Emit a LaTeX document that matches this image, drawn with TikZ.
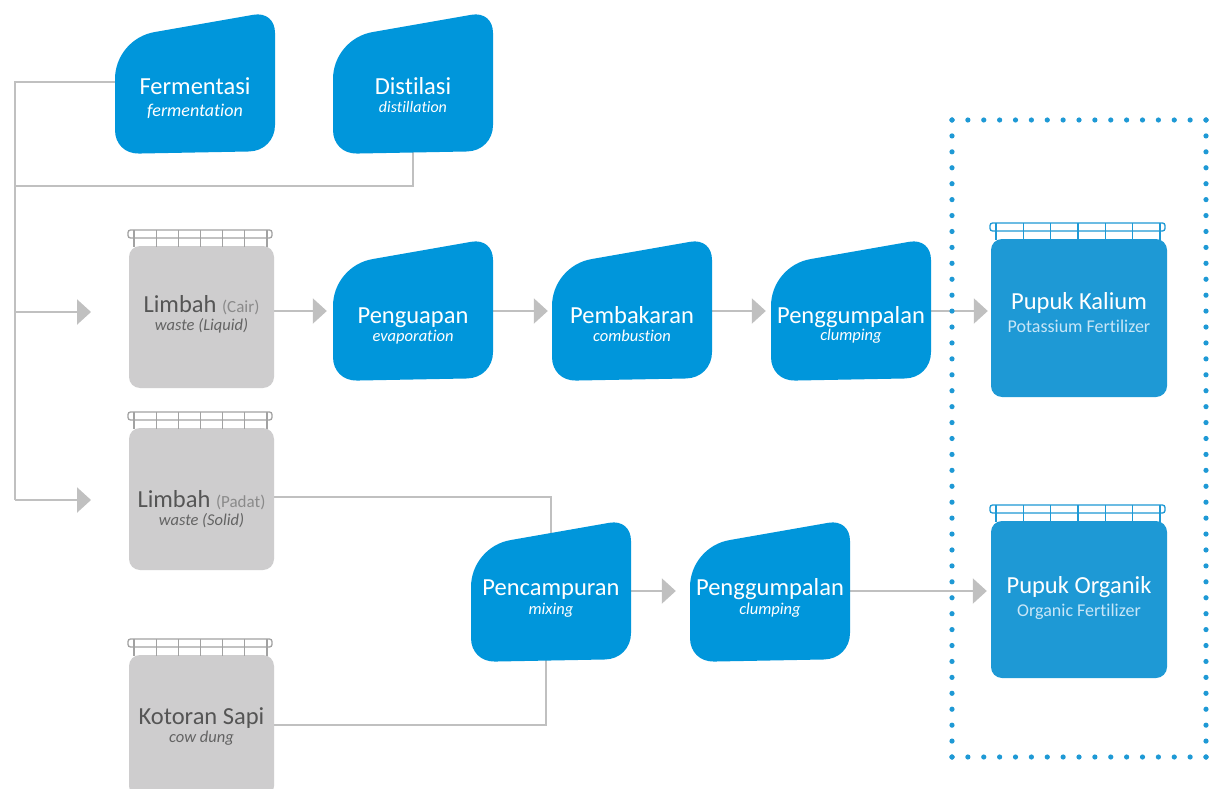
\documentclass[tikz,border=0pt]{standalone}
\usepackage{fontspec}
\setmainfont{Carlito}[Ligatures={NoCommon}]
\usetikzlibrary{arrows.meta,calc}
\definecolor{pblue}{HTML}{0096DB}
\definecolor{tblue}{HTML}{1E99D5}
\definecolor{tgray}{HTML}{CECDCE}
\definecolor{rgray}{HTML}{A2A2A2}
\definecolor{lgray}{HTML}{C0C0C0}
\definecolor{dgray}{HTML}{555555}
\definecolor{mgray}{HTML}{8A8A8A}
\definecolor{sgray}{HTML}{636363}
\definecolor{lblue}{HTML}{C8E6F7}
\pgfdeclarelayer{bg}\pgfsetlayers{bg,main}
\tikzset{
  conn/.style={draw=lgray, line width=2.2pt},
  arr/.style={conn, -{Triangle[length=14pt,width=25pt]}},
  dotline/.style={tblue, line width=5.2pt, line cap=round},
  ttl/.style={anchor=base, inner sep=0pt, font=\fontsize{24.5}{26}\selectfont},
  sub/.style={anchor=base, inner sep=0pt, font=\fontsize{16.5}{18}\selectfont\itshape},
}
\newcommand\procshape[8]{%
  \node[inner sep=0pt, minimum width=160pt, minimum height=140pt] (#1) at (#2+80,#3+71) {};
  \coordinate (#1BL) at (#2,#3+143);
  \coordinate (#1TL) at (#2,#3+28);
  \coordinate (#1TR) at (#2+160,#3);
  \coordinate (#1BR) at (#2+160,#3+140);
  \fill[pblue] ($(#1BL)!24pt!(#1BR)$)
     .. controls ($(#1BL)!10pt!(#1BR)$) and ($(#1BL)!10pt!(#1TL)$) .. ($(#1BL)!24pt!(#1TL)$)
     -- ($(#1TL)!40pt!(#1BL)$)
     .. controls ($(#1TL)!17pt!(#1BL)$) and ($(#1TL)!17pt!(#1TR)$) .. ($(#1TL)!40pt!(#1TR)$)
     -- ($(#1TR)!22pt!(#1TL)$)
     .. controls ($(#1TR)!9pt!(#1TL)$) and ($(#1TR)!9pt!(#1BR)$) .. ($(#1TR)!22pt!(#1BR)$)
     -- ($(#1BR)!26pt!(#1TR)$)
     .. controls ($(#1BR)!11pt!(#1TR)$) and ($(#1BR)!11pt!(#1BL)$) .. ($(#1BR)!26pt!(#1BL)$)
     -- cycle;
  \node[ttl, text=white] (#1t) at (#2+80,#5) {#4};
  \node[sub, text=white, font=\fontsize{#8}{#8}\selectfont\itshape] (#1s) at (#2+80,#7) {#6};
}
\newcommand\tank[7]{%
  \node[inner sep=0pt, minimum width=#4pt, minimum height=#5pt, fill=#6, rounded corners=11pt] (#1) at (#2+#4/2,#3+#5/2) {};
  \draw[#7, line width=1.3pt, rounded corners=2.5pt] (#2-1,#3-16) rectangle (#2+#4-2,#3-8);
  \foreach \k in {0,...,6}{\draw[#7, line width=1.3pt] (#2+5+\k*#4/6-\k*2,#3-16) -- (#2+5+\k*#4/6-\k*2,#3+1);}
}
\begin{document}
\begin{tikzpicture}[x=1pt,y=-1pt]
\useasboundingbox (0,0) rectangle (1211,789);
\clip (0,0) rectangle (1211,789);

% process shapes
\procshape{ferm}{115}{11}{Fermentasi}{95}{fermentation}{117}{18}
\procshape{dist}{333}{11}{Distilasi}{95}{distillation}{113}{16}
\procshape{pu}{333}{238}{Penguapan}{323}{evaporation}{341}{16.5}
\procshape{pb}{552}{238}{Pembakaran}{323}{combustion}{341}{16.5}
\procshape{pga}{771}{238}{Penggumpalan}{323}{clumping}{340}{16.5}
\procshape{pc}{471}{519}{Pencampuran}{595}{mixing}{614}{16.5}
\procshape{pgb}{690}{519}{Penggumpalan}{595}{clumping}{614}{16.5}

% tanks
\tank{lc}{129}{246}{145}{142}{tgray}{rgray}
\tank{lp}{129}{428}{145}{142}{tgray}{rgray}
\tank{ks}{129}{655}{145}{142}{tgray}{rgray}
\tank{pk}{991}{239}{176}{158}{tblue}{tblue}
\tank{po}{991}{521}{176}{157}{tblue}{tblue}

\node[ttl, text=dgray] (lct) at (201.5,312) {Limbah {\fontsize{17}{18}\selectfont\color{mgray}(Cair)}};
\node[sub, text=sgray] (lcs) at (201.5,330) {waste (Liquid)};
\node[ttl, text=dgray] (lpt) at (201.5,507) {Limbah {\fontsize{17}{18}\selectfont\color{mgray}(Padat)}};
\node[sub, text=sgray] (lps) at (201.5,525) {waste (Solid)};
\node[ttl, text=dgray] (kst) at (201.5,724) {Kotoran Sapi};
\node[sub, text=sgray] (kss) at (201.5,742) {cow dung};
\node[ttl, text=white] (pkt) at (1079,309) {Pupuk Kalium};
\node[anchor=base, inner sep=0pt, text=lblue, font=\fontsize{18}{20}\selectfont] (pks) at (1079,332) {Potassium Fertilizer};
\node[ttl, text=white] (pot) at (1079,593) {Pupuk Organik};
\node[anchor=base, inner sep=0pt, text=lblue, font=\fontsize{18}{20}\selectfont] (pos) at (1079,616) {Organic Fertilizer};

% dotted frame
\coordinate (d1) at (952,120);
\coordinate (d2) at (1206,120);
\coordinate (d3) at (1206,757);
\coordinate (d4) at (952,757);
\draw[dotline, dash pattern=on 0pt off 15.875pt] (d1) -- (d2);
\draw[dotline, dash pattern=on 0pt off 15.925pt] (d2) -- (d3);
\draw[dotline, dash pattern=on 0pt off 15.875pt] (d4) -- (d3);
\draw[dotline, dash pattern=on 0pt off 15.925pt] (d1) -- (d4);

% connectors
\begin{pgfonlayer}{bg}
\fill[white] (0,0) rectangle (1211,789);
\coordinate (a1) at (15,312);
\coordinate (a1e) at (91,312);
\coordinate (a2) at (15,500);
\coordinate (a2e) at (91,500);
\coordinate (bj) at (15,186);
\coordinate (r1) at (0,311);
\coordinate (r2) at (0,591);
\coordinate (j1) at (551,497);
\coordinate (j2) at (546,725);
\draw[conn] (ferm.west) -| (a2);
\draw[conn] (dist.south) |- (bj);
\draw[arr] (a1) -- (a1e);
\draw[arr] (a2) -- (a2e);
\draw[arr, shorten >=6pt] (lc.east|-r1) -- (pu.west|-r1);
\draw[arr, shorten >=4pt] (pu.east|-r1) -- (pb.west|-r1);
\draw[arr, shorten >=5pt] (pb.east|-r1) -- (pga.west|-r1);
\draw[arr, shorten >=3pt] (pga.east|-r1) -- (pk.west|-r1);
\draw[arr, shorten >=14pt] (pc.east|-r2) -- (pgb.west|-r2);
\draw[arr, shorten >=4pt] (pgb.east|-r2) -- (po.west|-r2);
\draw[conn] (lp.east|-j1) -| (pc.center-|j1);
\draw[conn] (ks.east|-j2) -| (pc.center-|j2);
\end{pgfonlayer}
\end{tikzpicture}
\end{document}
